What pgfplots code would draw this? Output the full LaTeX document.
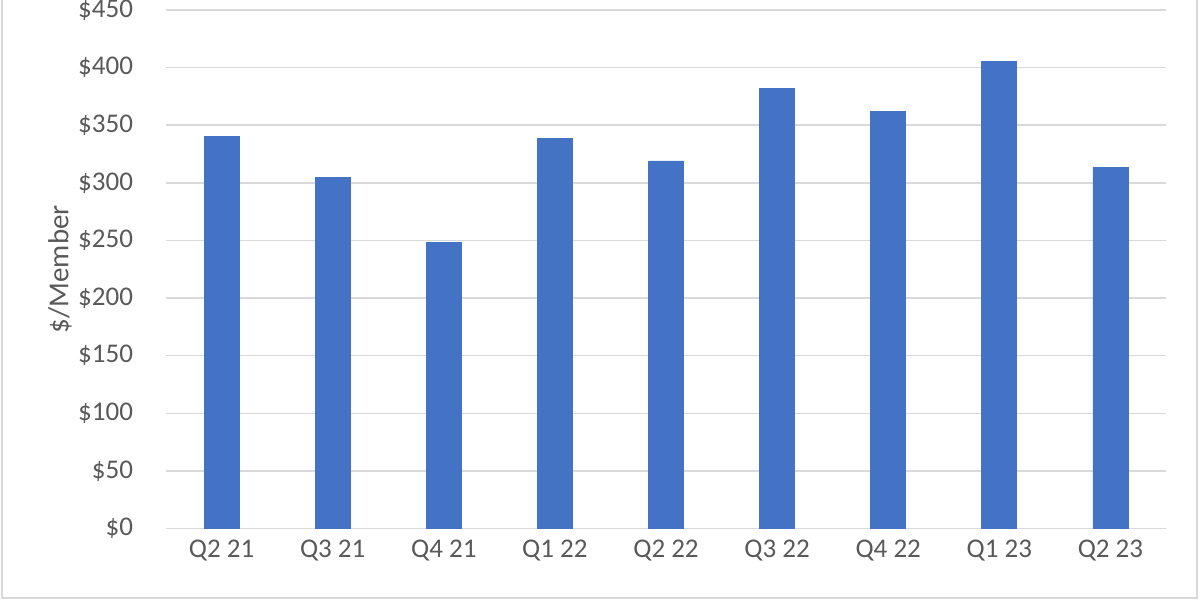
\documentclass[border=0pt]{standalone}
\usepackage{pgfplots}
\pgfplotsset{compat=1.18}
\usepackage{fontspec}
\setmainfont{Carlito}
\definecolor{barblue}{HTML}{4472C4}
\definecolor{gridgray}{HTML}{D9D9D9}
\definecolor{textgray}{HTML}{595959}
\definecolor{framegray}{HTML}{D9D9D9}
\begin{document}
\begin{tikzpicture}
\path[use as bounding box] (-83bp,-35.75bp) rectangle (517bp,264.25bp);
\begin{axis}[
  at={(0,0)}, anchor=south west,
  scale only axis,
  width=500bp, height=259.25bp,
  xmin=-0.5, xmax=8.5,
  ymin=0, ymax=450,
  ytick={0,50,...,450},
  xtick={0,...,8},
  xticklabels={Q2 21,Q3 21,Q4 21,Q1 22,Q2 22,Q3 22,Q4 22,Q1 23,Q2 23},
  yticklabel={\$\pgfmathprintnumber{\tick}},
  /pgf/number format/assume math mode=true,
  ymajorgrids,
  grid style={gridgray, line width=0.75bp},
  axis line style={draw=none},
  major tick length=0pt,
  tick style={draw=none},
  ticklabel style={font=\fontsize{13.5bp}{16bp}\selectfont, text=textgray},
  xticklabel style={yshift=-11bp, anchor=center},
  yticklabel style={anchor=east, xshift=-13bp},
  ylabel={\$/Member},
  ylabel style={font=\fontsize{14.5bp}{17bp}\selectfont, text=textgray, at={(axis description cs:0,0.5)}, anchor=center, yshift=53bp},
  clip=false,
]
\addplot[ybar, bar width=17.5bp, fill=barblue, draw=barblue] coordinates {
(0,340) (1,305) (2,248) (3,338.5) (4,319) (5,382) (6,362) (7,405) (8,313.5)
};
\end{axis}
\draw[framegray, line width=1bp] (-82bp,300bp) -- (-82bp,-34.75bp) -- (515.5bp,-34.75bp) -- (515.5bp,300bp);
\end{tikzpicture}
\end{document}
